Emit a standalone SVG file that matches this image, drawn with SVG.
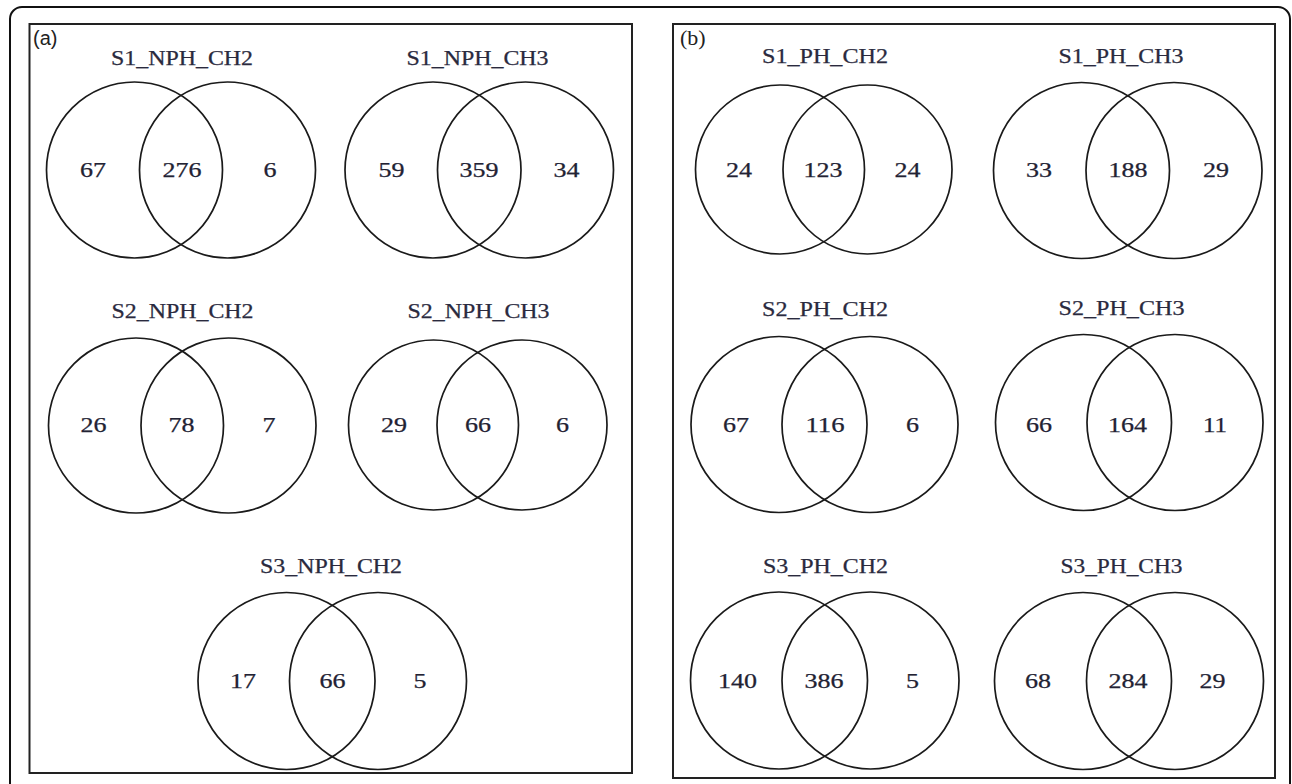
<svg xmlns="http://www.w3.org/2000/svg" width="1292" height="784" viewBox="0 0 1292 784">
<style>
.frame{fill:none;stroke:#111;stroke-width:2}
.panel{fill:#fff;stroke:#222;stroke-width:2}
.c{fill:none;stroke:#1a1a1a;stroke-width:1.7}
.t{font-family:"Liberation Serif","Times New Roman",serif;font-size:20px;fill:#2a2a3e;text-anchor:middle;stroke:#2a2a3e;stroke-width:0.25}
.n{font-family:"Liberation Serif","Times New Roman",serif;font-size:20px;fill:#222233;text-anchor:middle;stroke:#222233;stroke-width:0.25}
.lab{font-family:"Liberation Sans",Arial,sans-serif;font-size:20px;fill:#222}
.labs{font-family:"Liberation Serif","Times New Roman",serif;font-size:22px;fill:#222}
</style>
<rect width="1292" height="784" fill="#fff"/>
<rect class="frame" x="10" y="7" width="1280" height="795" rx="12"/>
<g id="panel-a">
<rect class="panel" x="29.5" y="24" width="602.5" height="749"/>
<text class="lab" x="33" y="45">(a)</text>
</g>
<g id="panel-b">
<rect class="panel" x="673" y="24" width="602" height="754"/>
<text class="labs" x="680" y="45">(b)</text>
</g>
<g id="S1_NPH_CH2">
<circle class="c" cx="134.5" cy="170" r="88"/><circle class="c" cx="227.5" cy="170" r="88"/>
<text class="t" x="182" y="65" textLength="142" lengthAdjust="spacingAndGlyphs">S1_NPH_CH2</text>
<text class="n" x="93" y="176.5" textLength="26" lengthAdjust="spacingAndGlyphs">67</text>
<text class="n" x="182" y="176.5" textLength="39" lengthAdjust="spacingAndGlyphs">276</text>
<text class="n" x="270" y="176.5" textLength="13" lengthAdjust="spacingAndGlyphs">6</text>
</g>
<g id="S1_NPH_CH3">
<circle class="c" cx="433" cy="170" r="88"/><circle class="c" cx="525.5" cy="170" r="88"/>
<text class="t" x="477.5" y="65" textLength="142" lengthAdjust="spacingAndGlyphs">S1_NPH_CH3</text>
<text class="n" x="391.5" y="176.5" textLength="26" lengthAdjust="spacingAndGlyphs">59</text>
<text class="n" x="479" y="176.5" textLength="39" lengthAdjust="spacingAndGlyphs">359</text>
<text class="n" x="566.5" y="176.5" textLength="26" lengthAdjust="spacingAndGlyphs">34</text>
</g>
<g id="S2_NPH_CH2">
<circle class="c" cx="136" cy="425.5" r="87.5"/><circle class="c" cx="228.5" cy="425.5" r="87.5"/>
<text class="t" x="182.5" y="318" textLength="142" lengthAdjust="spacingAndGlyphs">S2_NPH_CH2</text>
<text class="n" x="93.5" y="432" textLength="26" lengthAdjust="spacingAndGlyphs">26</text>
<text class="n" x="181.5" y="432" textLength="26" lengthAdjust="spacingAndGlyphs">78</text>
<text class="n" x="269" y="432" textLength="13" lengthAdjust="spacingAndGlyphs">7</text>
</g>
<g id="S2_NPH_CH3">
<circle class="c" cx="433.5" cy="425" r="85"/><circle class="c" cx="522" cy="425" r="85"/>
<text class="t" x="478.5" y="318" textLength="142" lengthAdjust="spacingAndGlyphs">S2_NPH_CH3</text>
<text class="n" x="394" y="432" textLength="26" lengthAdjust="spacingAndGlyphs">29</text>
<text class="n" x="478" y="432" textLength="26" lengthAdjust="spacingAndGlyphs">66</text>
<text class="n" x="562.5" y="432" textLength="13" lengthAdjust="spacingAndGlyphs">6</text>
</g>
<g id="S3_NPH_CH2">
<circle class="c" cx="286.5" cy="681" r="88.5"/><circle class="c" cx="378" cy="681" r="88.5"/>
<text class="t" x="331" y="573" textLength="142" lengthAdjust="spacingAndGlyphs">S3_NPH_CH2</text>
<text class="n" x="243" y="688" textLength="26" lengthAdjust="spacingAndGlyphs">17</text>
<text class="n" x="332.5" y="688" textLength="26" lengthAdjust="spacingAndGlyphs">66</text>
<text class="n" x="420" y="688" textLength="13" lengthAdjust="spacingAndGlyphs">5</text>
</g>
<g id="S1_PH_CH2">
<circle class="c" cx="780" cy="169.5" r="84.5"/><circle class="c" cx="867.5" cy="169.5" r="84.5"/>
<text class="t" x="825" y="63" textLength="126" lengthAdjust="spacingAndGlyphs">S1_PH_CH2</text>
<text class="n" x="739" y="176.5" textLength="26" lengthAdjust="spacingAndGlyphs">24</text>
<text class="n" x="823" y="176.5" textLength="39" lengthAdjust="spacingAndGlyphs">123</text>
<text class="n" x="907.5" y="176.5" textLength="26" lengthAdjust="spacingAndGlyphs">24</text>
</g>
<g id="S1_PH_CH3">
<circle class="c" cx="1081.5" cy="170.5" r="88"/><circle class="c" cx="1174" cy="170.5" r="88"/>
<text class="t" x="1121" y="63" textLength="125" lengthAdjust="spacingAndGlyphs">S1_PH_CH3</text>
<text class="n" x="1039" y="176.5" textLength="26" lengthAdjust="spacingAndGlyphs">33</text>
<text class="n" x="1128" y="176.5" textLength="39" lengthAdjust="spacingAndGlyphs">188</text>
<text class="n" x="1216" y="176.5" textLength="26" lengthAdjust="spacingAndGlyphs">29</text>
</g>
<g id="S2_PH_CH2">
<circle class="c" cx="779" cy="424.5" r="88"/><circle class="c" cx="870" cy="424.5" r="88"/>
<text class="t" x="825" y="316" textLength="126" lengthAdjust="spacingAndGlyphs">S2_PH_CH2</text>
<text class="n" x="736" y="432" textLength="26" lengthAdjust="spacingAndGlyphs">67</text>
<text class="n" x="825" y="432" textLength="39" lengthAdjust="spacingAndGlyphs">116</text>
<text class="n" x="912.5" y="432" textLength="13" lengthAdjust="spacingAndGlyphs">6</text>
</g>
<g id="S2_PH_CH3">
<circle class="c" cx="1083.5" cy="422.5" r="88"/><circle class="c" cx="1175" cy="422.5" r="88"/>
<text class="t" x="1121.5" y="315" textLength="126" lengthAdjust="spacingAndGlyphs">S2_PH_CH3</text>
<text class="n" x="1039" y="432" textLength="26" lengthAdjust="spacingAndGlyphs">66</text>
<text class="n" x="1127.5" y="432" textLength="39" lengthAdjust="spacingAndGlyphs">164</text>
<text class="n" x="1215" y="432" textLength="24" lengthAdjust="spacingAndGlyphs">11</text>
</g>
<g id="S3_PH_CH2">
<circle class="c" cx="779" cy="680.5" r="88.5"/><circle class="c" cx="870.5" cy="680.5" r="88.5"/>
<text class="t" x="825.5" y="573" textLength="125" lengthAdjust="spacingAndGlyphs">S3_PH_CH2</text>
<text class="n" x="737.5" y="688" textLength="39" lengthAdjust="spacingAndGlyphs">140</text>
<text class="n" x="824" y="688" textLength="39" lengthAdjust="spacingAndGlyphs">386</text>
<text class="n" x="912.5" y="688" textLength="13" lengthAdjust="spacingAndGlyphs">5</text>
</g>
<g id="S3_PH_CH3">
<circle class="c" cx="1083" cy="681" r="88.5"/><circle class="c" cx="1175" cy="681" r="88.5"/>
<text class="t" x="1121.5" y="573" textLength="122" lengthAdjust="spacingAndGlyphs">S3_PH_CH3</text>
<text class="n" x="1038" y="688" textLength="26" lengthAdjust="spacingAndGlyphs">68</text>
<text class="n" x="1128" y="688" textLength="39" lengthAdjust="spacingAndGlyphs">284</text>
<text class="n" x="1212.5" y="688" textLength="26" lengthAdjust="spacingAndGlyphs">29</text>
</g>
<g id="connectors"></g>
</svg>
